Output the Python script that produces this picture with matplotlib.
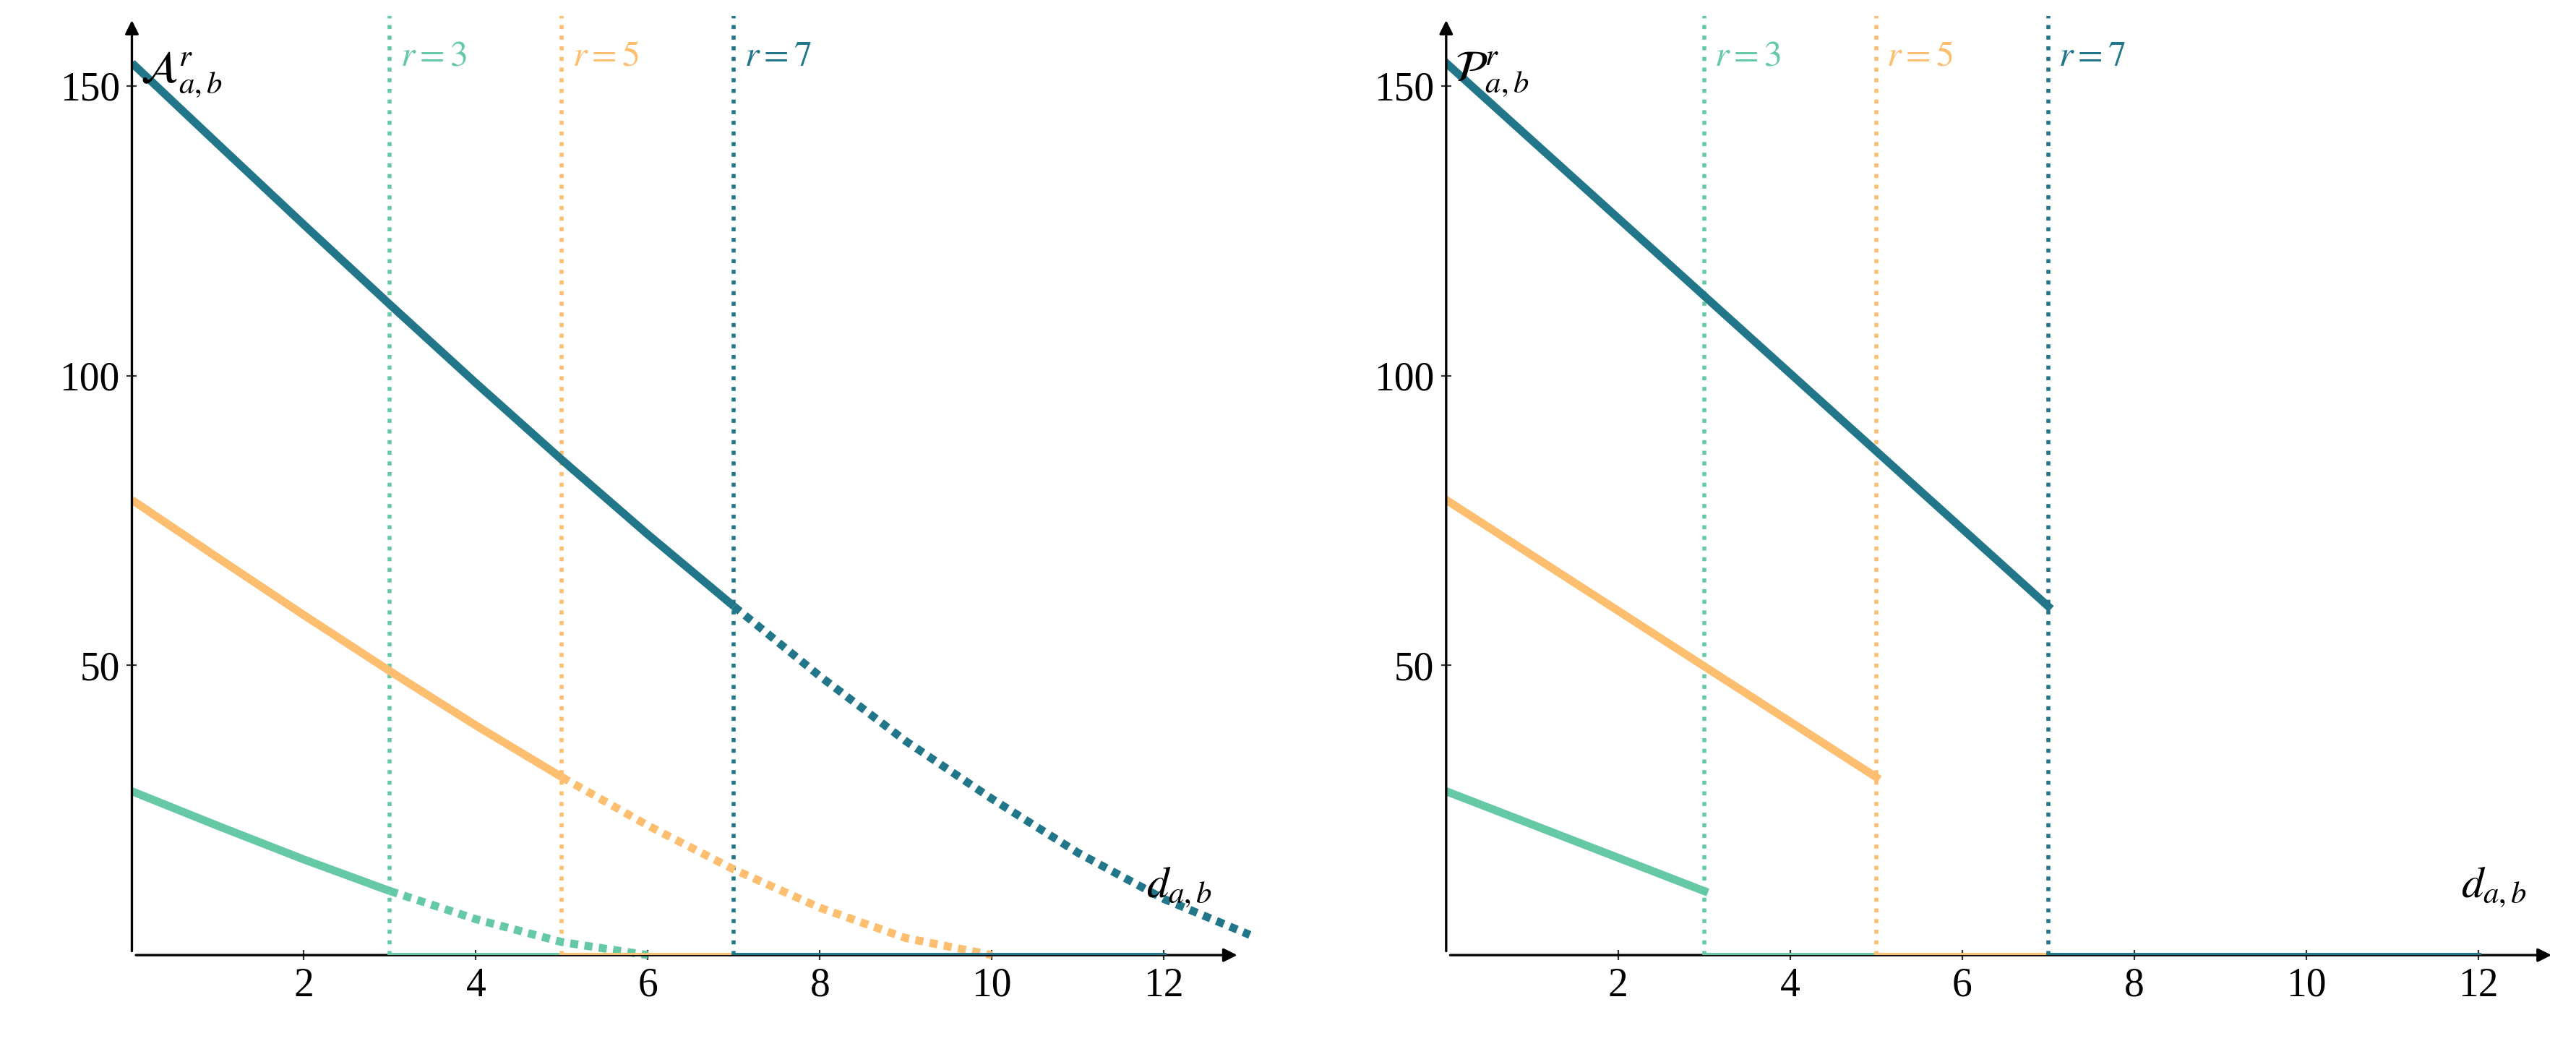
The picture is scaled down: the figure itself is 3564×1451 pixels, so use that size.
import matplotlib
matplotlib.use("Agg")
import matplotlib.pyplot as plt

plt.rcParams['mathtext.fontset'] = 'stix'
plt.rcParams['font.family'] = ['Liberation Serif', 'DejaVu Serif']

radii = [3, 5, 7]
colors = {3: '#66c9a6', 5: '#fdbf6f', 7: '#21768a'}
d_vals = list(range(0, 14))
A_vals = {
    3: [28.27, 22.30, 16.50, 11.06, 6.20, 2.25, 0.0],
    5: [78.54, 68.56, 58.67, 49.00, 39.63, 30.71, 22.36, 14.78, 8.18, 2.94, 0.0],
    7: [153.94, 139.95, 126.03, 112.26, 98.71, 85.46, 72.58, 60.19, 48.13, 36.92, 26.98, 17.67, 9.69, 3.49],
}
P_vals = {3: [28.27, 11.06], 5: [78.54, 30.71], 7: [153.94, 60.19]}
zero_seg = {3: (3, 5), 5: (5, 7), 7: (7, 12)}
xticks = [2, 4, 6, 8, 10, 12]
yticks = [50, 100, 150]

fig = plt.figure(figsize=(17.82, 7.255), dpi=200)
axL = fig.add_axes([0.0512, 0.0895, 0.444, 0.895])
axR = fig.add_axes([0.5614, 0.0895, 0.444, 0.895])

def setup(ax, ylab):
    ax.set_xlim(0, 13.3)
    ax.set_ylim(0, 162)
    for s in ['top', 'right']:
        ax.spines[s].set_visible(False)
    ax.spines['left'].set_visible(False)
    ax.spines['bottom'].set_visible(False)
    ax.annotate('', xy=(12.9, 0), xytext=(0, 0), annotation_clip=False,
                arrowprops=dict(arrowstyle='-|>', color='black', lw=1.2, mutation_scale=14))
    ax.annotate('', xy=(0, 162), xytext=(0, 0), annotation_clip=False,
                arrowprops=dict(arrowstyle='-|>', color='black', lw=1.2, mutation_scale=14))
    ax.set_xticks(xticks)
    ax.set_yticks(yticks)
    ax.tick_params(labelsize=20, length=5, direction='inout', width=0.8, colors='#333333', labelcolor='black')
    for r in radii:
        ax.plot([r, r], [0, 162], ls=':', lw=2, color=colors[r], clip_on=False)
        ax.text(r + 0.12, 155, f'$r = {r}$', color=colors[r], fontsize=18, va='center')
        a, b = zero_seg[r]
        ax.plot([a, b], [0, 0], color=colors[r], lw=2.5, zorder=3)
    ax.text(0.1, 152, ylab, fontsize=22, va='center')
    ax.text(11.8, 8, r'$d_{a,b}$', fontsize=22, va='bottom')

setup(axL, r'$\mathcal{A}^{r}_{a,b}$')
setup(axR, r'$\mathcal{P}^{r}_{a,b}$')

for r in radii:
    vals = A_vals[r]
    xs = d_vals[:len(vals)]
    axL.plot(xs[:r + 1], vals[:r + 1], color=colors[r], lw=4, solid_capstyle='butt')
    axL.plot(xs[r:], vals[r:], color=colors[r], lw=4, ls=(0, (1, 0.8)), clip_on=False)
    axR.plot([0, r], P_vals[r], color=colors[r], lw=4)

fig.savefig('out.png', dpi=200)
